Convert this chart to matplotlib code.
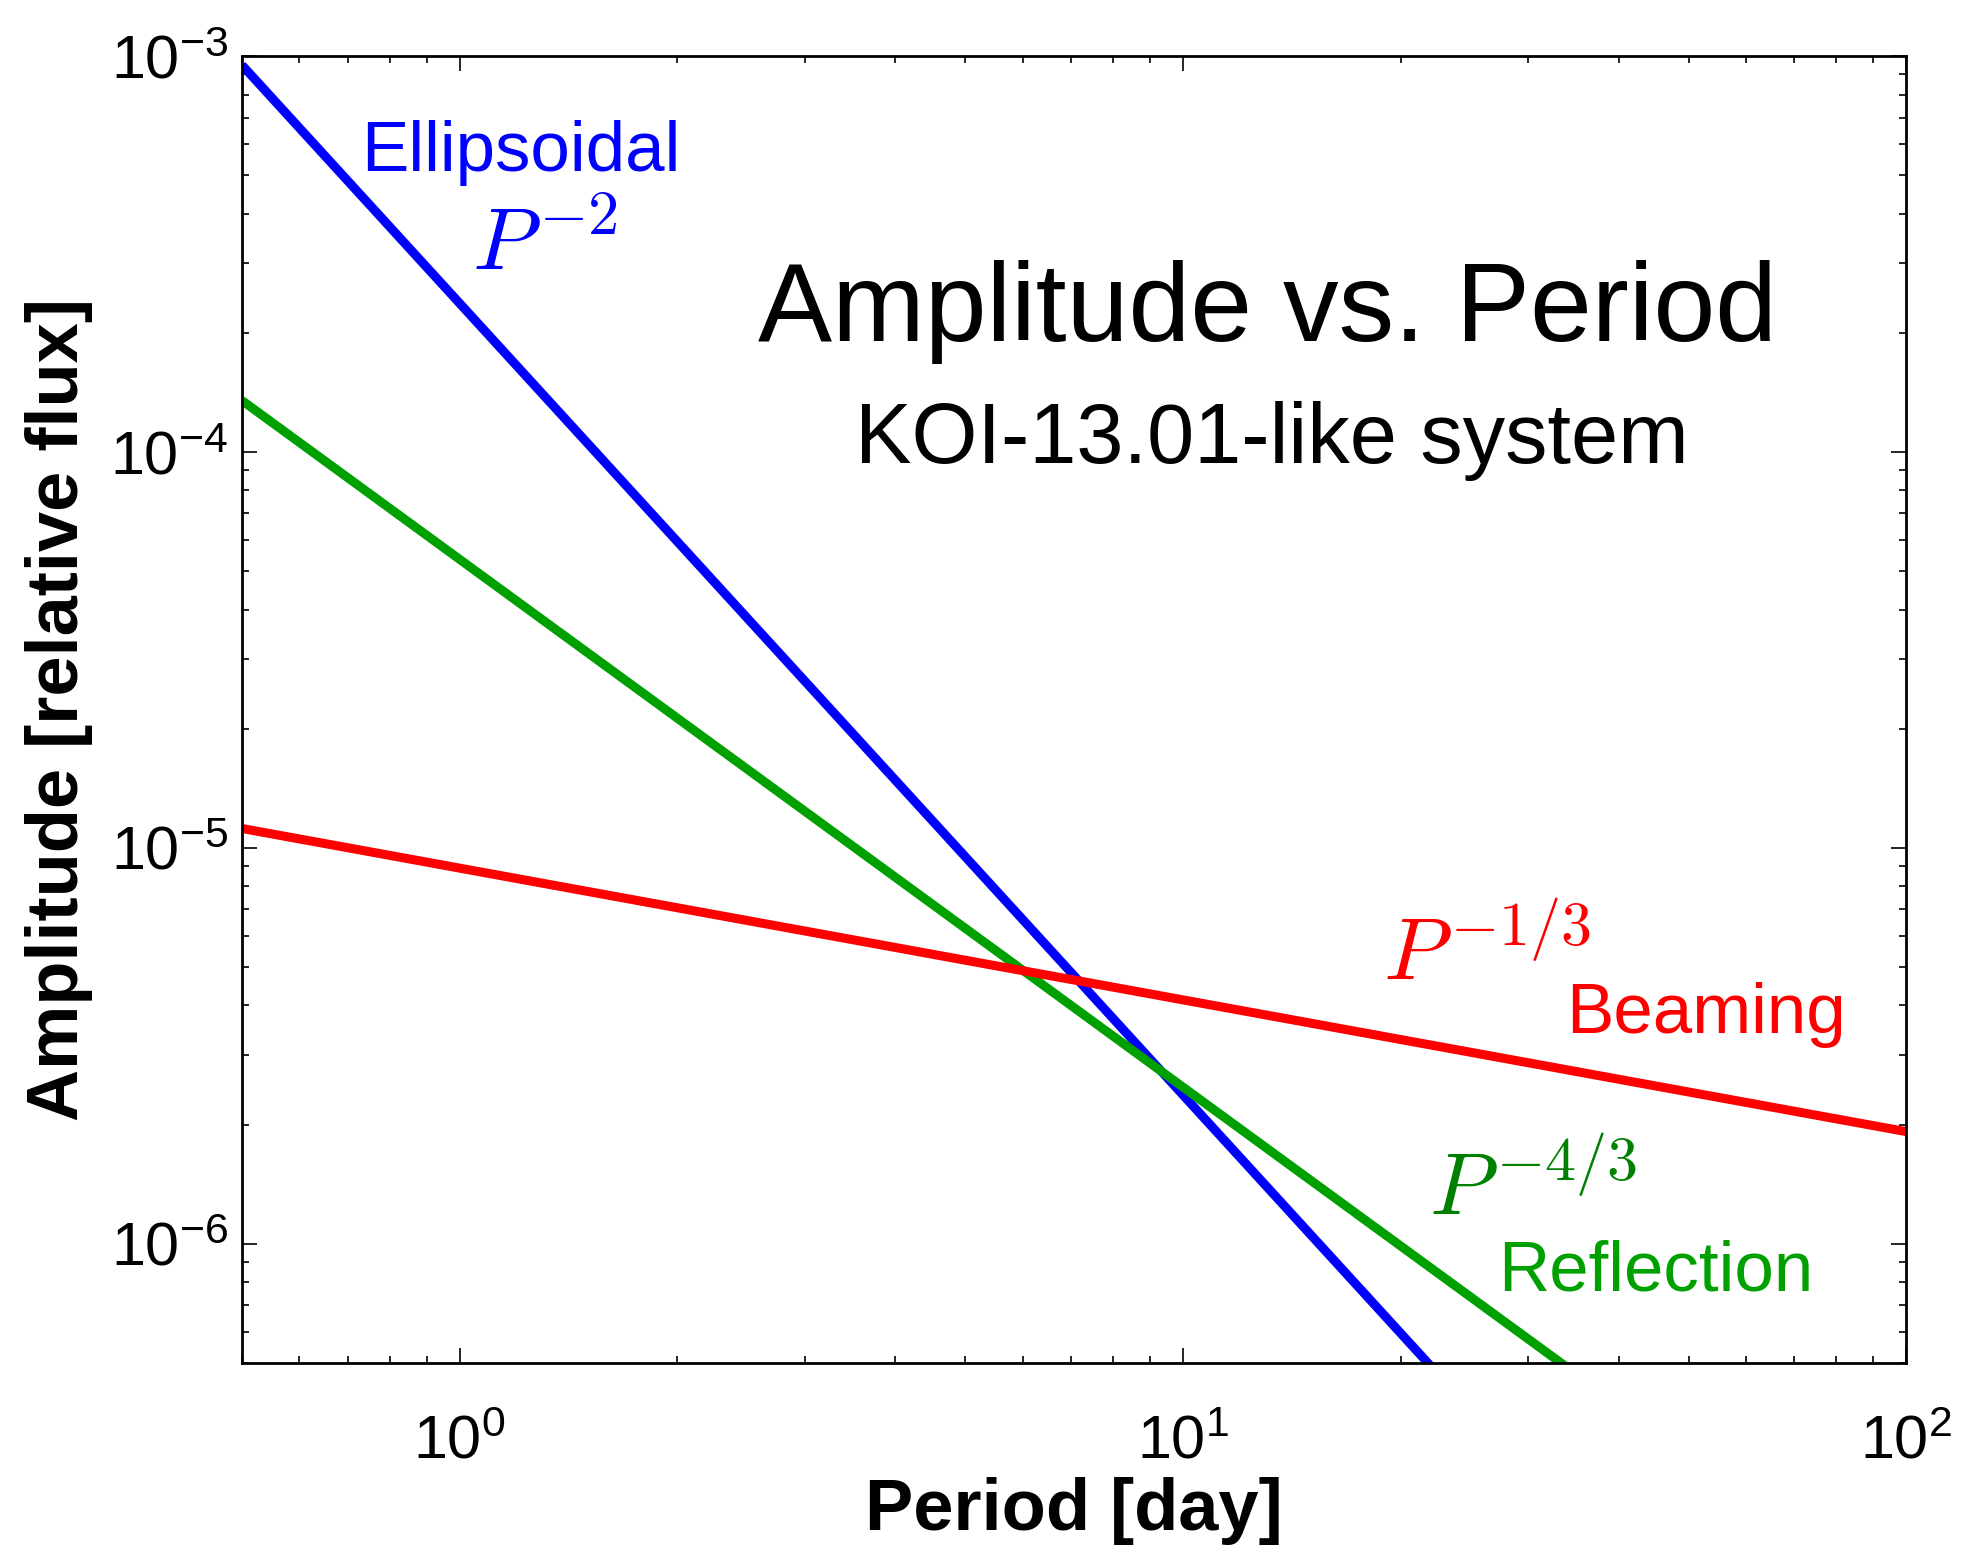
import math

import matplotlib
matplotlib.use("Agg")
import matplotlib.pyplot as plt
from matplotlib.ticker import LogLocator, FuncFormatter

plt.rcParams["font.family"] = ["Liberation Sans", "DejaVu Sans"]
plt.rcParams["mathtext.fontset"] = "cm"

# orbital period range [day]
period = [0.5, 100.0]
# amplitudes at the two ends of the period range [relative flux]
ellipsoidal = [9.5e-4, 2.375e-8]
reflection = [1.35e-4, 1.154e-7]
beaming = [1.12e-5, 1.92e-6]

BLUE = "#0000ff"
GREEN = "#00a000"
DARK_GREEN = "#008000"
RED = "#ff0000"

fig = plt.figure(figsize=(19.64, 15.46), dpi=100)
ax = fig.add_axes([0.1232, 0.1184, 0.8475, 0.8452])

ax.plot(period, ellipsoidal, color=BLUE, lw=6.5, solid_capstyle="butt")
ax.plot(period, reflection, color=GREEN, lw=6.5, solid_capstyle="butt")
ax.plot(period, beaming, color=RED, lw=6.5, solid_capstyle="butt")

ax.set_xscale("log")
ax.set_yscale("log")
ax.set_xlim(0.5, 100)
ax.set_ylim(5e-7, 1e-3)

fmt = FuncFormatter(lambda v, pos: r"$\mathregular{10^{%d}}$" % round(math.log10(v)))
ax.xaxis.set_major_locator(LogLocator(base=10))
ax.yaxis.set_major_locator(LogLocator(base=10))
ax.xaxis.set_major_formatter(fmt)
ax.yaxis.set_major_formatter(fmt)
ax.tick_params(which="both", direction="in", top=True, right=True, width=1.2)
ax.tick_params(which="major", length=11, labelsize=44)
ax.tick_params(which="minor", length=5)
ax.tick_params(axis="x", which="major", pad=37)
ax.tick_params(axis="y", which="major", pad=10)
for s in ax.spines.values():
    s.set_linewidth(2)

ax.set_xlabel("Period [day]", fontsize=52, fontweight="bold", labelpad=4)
ax.set_ylabel("Amplitude [relative flux]", fontsize=52, fontweight="bold", labelpad=12)

ax.text(13.1, 1.91e-4, "Amplitude vs. Period", fontsize=80, ha="center", va="baseline")
ax.text(13.25, 9.37e-5, "KOI-13.01-like system", fontsize=61, ha="center", va="baseline")

ax.text(1.216, 5.12e-4, "Ellipsoidal", color=BLUE, fontsize=51, ha="center", va="baseline")
ax.text(1.312, 2.90e-4, r"$P^{-2}$", color=BLUE, fontsize=64, ha="center", va="baseline")

ax.text(26.3, 4.62e-6, r"$P^{-1/3}$", color=RED, fontsize=64, ha="center", va="baseline")
ax.text(52.8, 3.40e-6, "Beaming", color=RED, fontsize=51, ha="center", va="baseline")

ax.text(30.5, 1.18e-6, r"$P^{-4/3}$", color=DARK_GREEN, fontsize=64, ha="center", va="baseline")
ax.text(45.0, 7.64e-7, "Reflection", color=GREEN, fontsize=51, ha="center", va="baseline")

fig.savefig("out.png", dpi=100)
